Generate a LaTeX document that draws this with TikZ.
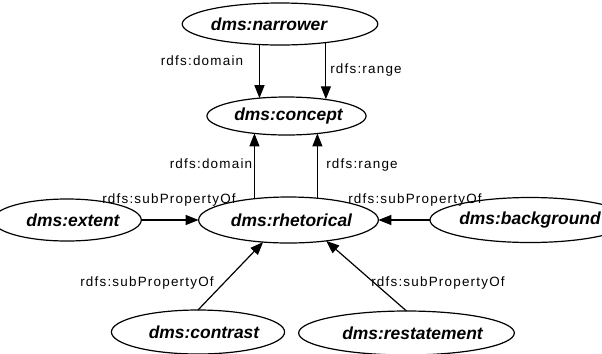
\documentclass[tikz,border=0pt]{standalone}
\usepackage{fontspec}
\setmainfont{Liberation Sans}
\newfontfamily\lblfont[LetterSpace=9]{Liberation Sans}
\usetikzlibrary{shapes.geometric,arrows.meta}
\tikzset{
 cls/.style={ellipse, draw, line width=1.2bp, inner sep=0pt, outer sep=0pt,
   font=\fontsize{17.5}{20}\selectfont\bfseries\itshape},
 arr/.style={line width=1.2bp, -{Triangle[length=13bp,width=10bp]}},
 lbl/.style={font=\lblfont\fontsize{13.5}{15}\selectfont, inner sep=0pt, anchor=base},
}
\begin{document}
\begin{tikzpicture}[x=1bp,y=-1bp]
\useasboundingbox (0,0) rectangle (602,353);
\node[cls, minimum width=150bp, minimum height=42bp] (narrower) at (280,24) {dms:narrower\hspace*{22bp}};
\node[cls, minimum width=127bp, minimum height=38bp] (concept) at (286.5,116) {\hspace*{4bp}dms:concept};
\node[cls, minimum width=151bp, minimum height=46bp] (rhetorical) at (288.5,220) {\hspace*{6bp}dms:rhetorical};
\node[cls, minimum width=120bp, minimum height=42bp] (extent) at (67,220) {\hspace*{12bp}dms:extent};
\node[cls, minimum width=148bp, minimum height=45bp] (background) at (530,220) {dms:background};
\node[cls, minimum width=132bp, minimum height=44bp] (contrast) at (198,332) {\hspace*{12bp}dms:contrast};
\node[cls, minimum width=155bp, minimum height=44bp] (restatement) at (406.5,333) {\hspace*{12bp}dms:restatement};

\draw[arr] (narrower.225) -- (narrower.225 |- concept.147);
\draw[arr] (narrower.338) -- (narrower.338 |- concept.24);
\draw[arr] (rhetorical.148) -- (rhetorical.148 |- concept.208);
\draw[arr] (rhetorical.37) -- (rhetorical.37 |- concept.331);
\draw[arr] (extent.east) -- (rhetorical.west);
\draw[arr] (background.west) -- (rhetorical.east);
\draw[arr] (contrast.north) -- (rhetorical.221);
\draw[arr] (restatement.north) -- (rhetorical.331);

\node[lbl] (l1) at (202,65) {rdfs:domain};
\node[lbl] (l2) at (366,73) {rdfs:range};
\node[lbl] (l3) at (211,168) {rdfs:domain};
\node[lbl] (l4) at (362,168) {rdfs:range};
\node[lbl] (l5) at (169,203) {rdfs:subPropertyOf};
\node[lbl] (l6) at (415,203) {rdfs:subPropertyOf};
\node[lbl] (l7) at (147,286) {rdfs:subPropertyOf};
\node[lbl] (l8) at (438,286) {rdfs:subPropertyOf};
\end{tikzpicture}
\end{document}
